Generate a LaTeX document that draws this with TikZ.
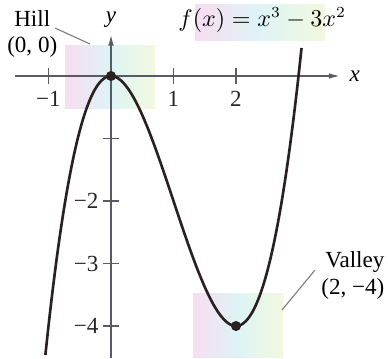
\documentclass[tikz,border=0pt]{standalone}
\usepackage{fontspec}
\setmainfont{Liberation Serif}
\usetikzlibrary{positioning, arrows.meta, calc}
\definecolor{axisgray}{HTML}{5A5A66}
\definecolor{curveblack}{HTML}{2A2020}
\definecolor{glowpink}{HTML}{F8DDF0}
\definecolor{glowcyan}{HTML}{DDF4F6}
\definecolor{glowlime}{HTML}{F2F8DE}

\begin{document}
\begin{tikzpicture}[
    >={Latex[length=5pt,width=2.6pt]},
    font=\fontsize{10.5}{12}\selectfont,
    axis/.style={
        draw=axisgray, line width=0.6pt,
    },
    tick/.style={
        draw=axisgray, line width=0.6pt,
    },
    ticklabel/.style={
        inner sep=1pt, text=black!85,
    },
    glow/.style={
        left color=glowpink, right color=glowlime, middle color=glowcyan,
        draw=none,
    },
    curve/.style={
        draw=curveblack, line width=1.2pt,
    },
    extremum/.style={
        circle, fill=curveblack, inner sep=0pt, minimum size=4.6pt,
    },
    caption/.style={
        align=center, inner sep=1pt,
    },
    leader/.style={
        draw=axisgray!80, line width=0.5pt,
    },
]
\useasboundingbox (-1.776,-4.512) rectangle (4.432,1.216);

% Highlight patches
\shade[glow] (-0.736,-0.512) rectangle (0.704,0.496);
\shade[glow] (1.312,-4.496) rectangle (2.752,-3.472);
\shade[glow] (1.344,0.576) rectangle (3.424,1.152);

% Axes
\coordinate (xstart) at (-1.54,0);
\coordinate (xend) at (3.66,0);
\coordinate (ystart) at (0,-4.512);
\coordinate (yend) at (0,0.66);
\draw[axis, ->] (xstart) -- (xend);
\draw[axis, ->] (ystart) -- (yend);
\node[right=1pt of xend, font=\fontsize{10.5}{12}\selectfont\itshape] (xlabel) {x};
\node[above=0pt of yend, font=\fontsize{10.5}{12}\selectfont\itshape] (ylabel) {y};

% Ticks
\foreach \x/\lab in {-1/\textminus1, 1/1, 2/2} {
    \draw[tick] (\x,-0.13) -- (\x,0.13);
    \node[ticklabel] at (\x,-0.36) {\lab};
}
\draw[tick] (-0.13,-1) -- (0.13,-1);
\foreach \y in {2,3,4} {
    \draw[tick] (-0.13,-\y) -- (0.13,-\y);
    \node[ticklabel, anchor=east] at (-0.16,-\y) {\textminus\y};
}

% Graph of the cubic
\draw[curve] plot[domain=-1.05:3.05, samples=120, smooth] (\x, {\x*\x*\x - 3*\x*\x});
\node[extremum] (hill) at (0,0) {};
\node[extremum] (valley) at (2,-4) {};

% Labels
\node (formula) at (2.42,0.9) {$f(x) = x^3 - 3x^2$};

\node[caption] (hilllabel) at (-1.26,0.67) {Hill\\(0, 0)};
\coordinate (hillfoot) at (-0.896,0.768);
\coordinate (hilltip) at (-0.336,0.512);
\draw[leader] (hillfoot) -- (hilltip);

\node[caption, align=right] (valleylabel) at (3.87,-3.19) {Valley\\(2, \textminus4)};
\coordinate (valleyfoot) at (3.264,-3.104);
\coordinate (valleytip) at (2.736,-3.744);
\draw[leader] (valleyfoot) -- (valleytip);

\end{tikzpicture}
\end{document}
